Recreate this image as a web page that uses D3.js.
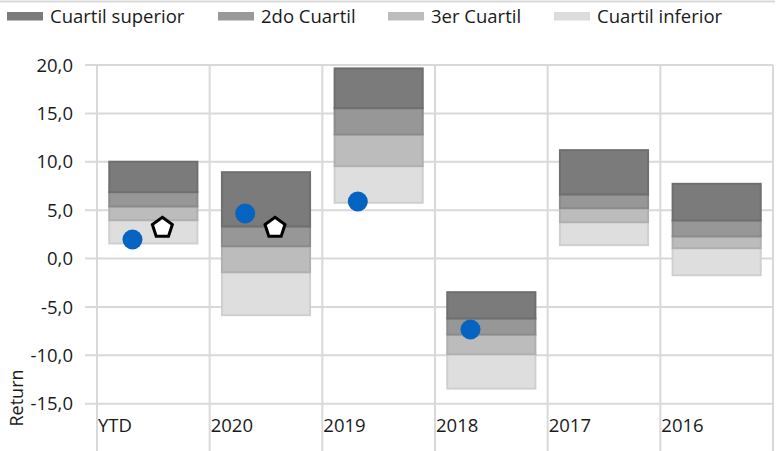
<!DOCTYPE html>
<html><head><meta charset="utf-8">
<script src="https://cdn.jsdelivr.net/npm/d3@7"></script>
<style>
html,body{margin:0;padding:0;background:#fff;}
text{font-family:"Open Sans","Liberation Sans",sans-serif;fill:#1a1a1a;}
</style></head>
<body><svg id="chart" width="781" height="451"></svg>
<script>
const categories = ["YTD","2020","2019","2018","2017","2016"];
const seriesNames = ["Cuartil superior","2do Cuartil","3er Cuartil","Cuartil inferior"];
// quartile boundaries per category
const lowest   = [1.55, -5.86, 5.76, -13.45, 1.38, -1.73];
const q1       = [3.96, -1.42, 9.55, -9.90, 3.75, 1.07];
const median   = [5.38, 1.27, 12.82, -7.86, 5.20, 2.28];
const q3       = [6.86, 3.31, 15.54, -6.20, 6.62, 3.93];
const highest  = [10.0, 8.92, 19.65, -3.48, 11.20, 7.72];
const fund      = [1.96, 4.65, 5.89, -7.34, null, null];
const benchmark = [3.28, 3.28, null, null, null, null];
const yTicks = [-15, -10, -5, 0, 5, 10, 15, 20];
const yTitle = "Return";

const fills   = ["#7b7b7b","#979797","#bcbcbc","#dedede"];
const strokes = ["#6f6f6f","#8b8b8b","#b0b0b0","#cfcfcf"];
const legendFills = ["#7b7b7b","#999999","#bdbdbd","#dcdcdc"];

const svg = d3.select("#chart");
const x = d3.scaleBand().domain(categories).range([97, 773]).padding(0);
const y = d3.scaleLinear().domain([-20, 20]).range([452, 65]);
const bw = x.bandwidth();

// top thin line
svg.append("line").attr("x1",0).attr("x2",775).attr("y1",1.5).attr("y2",1.5)
  .attr("stroke","#d9d9d9").attr("stroke-width",2);

// horizontal gridlines
svg.append("g").selectAll("line").data(yTicks).join("line")
  .attr("x1",85).attr("x2",773)
  .attr("y1",d=>y(d)).attr("y2",d=>y(d))
  .attr("stroke","#d9d9d9").attr("stroke-width",2);

// vertical gridlines
const vx = categories.map(c=>x(c)).concat([x(categories[categories.length-1])+bw]);
svg.append("g").selectAll("line").data(vx).join("line")
  .attr("x1",d=>d).attr("x2",d=>d).attr("y1",y(20)).attr("y2",451)
  .attr("stroke","#d9d9d9").attr("stroke-width",2);

// y tick labels
svg.append("g").selectAll("text").data(yTicks).join("text")
  .attr("x",73).attr("y",d=>y(d)).attr("dy","0.36em")
  .attr("text-anchor","end").style("font-size","18.5px")
  .text(d=>d3.format(".1f")(d).replace(".",",").replace("−","-"));

// y title
svg.append("text").attr("transform","translate(23,398) rotate(-90)")
  .attr("text-anchor","middle").style("font-size","18px").text(yTitle);

// bars
const segs = [];
categories.forEach((c,i)=>{
  const b = [highest[i], q3[i], median[i], q1[i], lowest[i]];
  for(let k=3;k>=0;k--){
    segs.push({c, k, top:b[k], bot:b[k+1]});
  }
});
svg.append("g").selectAll("rect").data(segs).join("rect")
  .attr("x",d=>x(d.c)+bw*0.1+1).attr("width",bw*0.8-2)
  .attr("y",d=>y(d.top)).attr("height",d=>y(d.bot)-y(d.top))
  .attr("fill",d=>fills[d.k]).attr("stroke",d=>strokes[d.k]).attr("stroke-width",2);

// x labels
svg.append("g").selectAll("text").data(categories).join("text")
  .attr("x",c=>x(c)+1).attr("y",431.5).style("font-size","18.5px").text(c=>c);

// fund dots
svg.append("g").selectAll("circle").data(categories.map((c,i)=>({c,v:fund[i]})).filter(d=>d.v!=null))
  .join("circle").attr("cx",d=>x(d.c)+bw*0.315).attr("cy",d=>y(d.v)).attr("r",10)
  .attr("fill","#0563c1");

// benchmark pentagons
const pent = (r)=>d3.range(5).map(j=>{const a=-Math.PI/2+j*2*Math.PI/5;return [r*Math.cos(a), r*Math.sin(a)];});
svg.append("g").selectAll("path").data(categories.map((c,i)=>({c,v:benchmark[i]})).filter(d=>d.v!=null))
  .join("path").attr("transform",d=>`translate(${x(d.c)+bw*0.58},${y(d.v)+1})`)
  .attr("d","M"+pent(10.5).map(p=>p.join(",")).join("L")+"Z")
  .attr("fill","#fff").attr("stroke","#000").attr("stroke-width",3).attr("stroke-linejoin","miter");

// legend
const legendX = [7, 218, 388, 554];
const lg = svg.append("g").selectAll("g").data(seriesNames).join("g")
  .attr("transform",(d,i)=>`translate(${legendX[i]},0)`);
lg.append("rect").attr("x",0).attr("y",12).attr("width",36).attr("height",8.5)
  .attr("fill",(d,i)=>legendFills[i]);
lg.append("text").attr("x",43).attr("y",16.5).attr("dy","0.36em")
  .style("font-size","18.5px").text(d=>d);
</script></body></html>
